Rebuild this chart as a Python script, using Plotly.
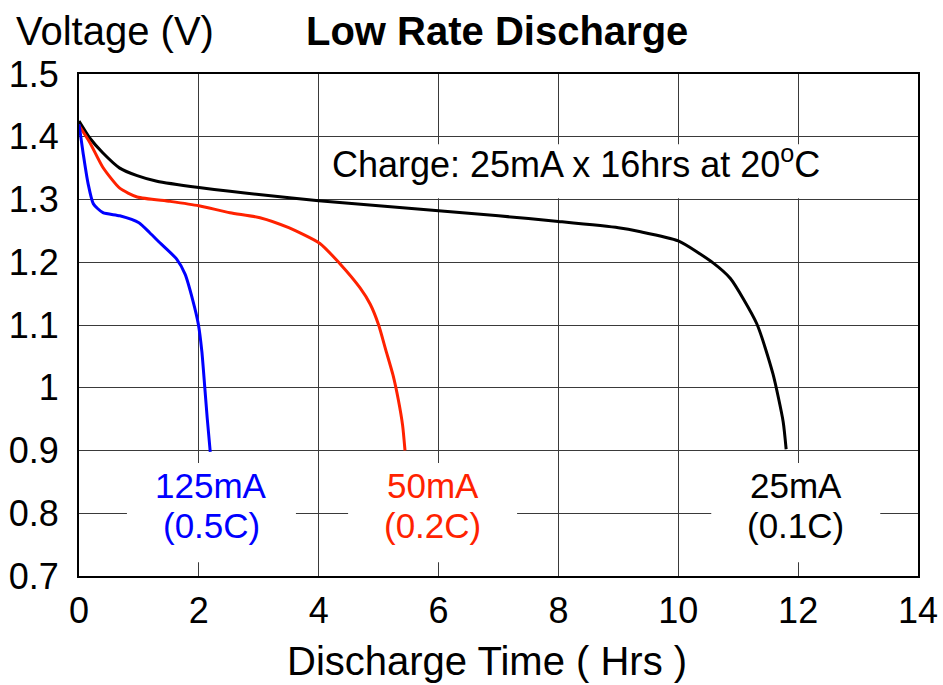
import plotly.graph_objects as go

# ---- data ----
t_25mA = [0, 0.18, 0.4, 0.68, 0.97, 1.3, 2.0, 2.52, 3.0, 4.0, 5.0, 6.0, 7.0, 8.0, 9.0, 9.35, 10.0, 10.58, 10.87, 11.31, 11.58, 11.75, 11.8]
v_25mA = [1.425, 1.398, 1.374, 1.350, 1.338, 1.329, 1.319, 1.313, 1.308, 1.298, 1.29, 1.282, 1.274, 1.265, 1.255, 1.249, 1.234, 1.199, 1.174, 1.102, 1.022, 0.946, 0.902]

t_50mA = [0, 0.18, 0.4, 0.68, 0.97, 1.52, 2.0, 2.52, 3.02, 3.5, 4.02, 4.35, 4.69, 4.86, 5.0, 5.12, 5.24, 5.33, 5.4, 5.44]
v_50mA = [1.418, 1.391, 1.351, 1.318, 1.304, 1.297, 1.290, 1.279, 1.271, 1.255, 1.230, 1.198, 1.159, 1.133, 1.10, 1.06, 1.02, 0.98, 0.94, 0.90]

t_125mA = [0, 0.07, 0.15, 0.24, 0.4, 0.68, 1.0, 1.18, 1.35, 1.63, 1.77, 1.9, 1.99, 2.05, 2.1, 2.14, 2.19]
v_125mA = [1.42, 1.373, 1.326, 1.293, 1.279, 1.274, 1.263, 1.247, 1.231, 1.205, 1.181, 1.139, 1.102, 1.058, 0.999, 0.951, 0.898]

x_ticks = [0, 2, 4, 6, 8, 10, 12, 14]
y_ticks = [0.7, 0.8, 0.9, 1.0, 1.1, 1.2, 1.3, 1.4, 1.5]
y_ticktext = ["0.7", "0.8", "0.9", "1", "1.1", "1.2", "1.3", "1.4", "1.5"]

series = [
    ("25mA", "(0.1C)", t_25mA, v_25mA, "#000000", 11.96),
    ("50mA", "(0.2C)", t_50mA, v_50mA, "#ff2200", 5.9),
    ("125mA", "(0.5C)", t_125mA, v_125mA, "#0000ff", 2.21),
]

FONT = "Liberation Sans, Arial, sans-serif"

fig = go.Figure()
for name, rate, t, v, col, lx in series:
    fig.add_trace(go.Scatter(x=t, y=v, mode="lines", name=name,
                             line=dict(color=col, width=3, shape="spline", smoothing=0.6),
                             showlegend=False))

shapes = []
annotations = []
for name, rate, t, v, col, lx in series:
    shapes.append(dict(type="rect", xref="x", yref="y", layer="between",
                       x0=lx - 1.41, x1=lx + 1.41, y0=0.722, y1=0.88,
                       fillcolor="white", line=dict(width=0)))
    annotations.append(dict(x=lx, y=0.845, xref="x", yref="y", text=name, showarrow=False,
                            font=dict(size=35, color=col, family=FONT)))
    annotations.append(dict(x=lx, y=0.781, xref="x", yref="y", text=rate, showarrow=False,
                            font=dict(size=35, color=col, family=FONT)))

# charge note box
shapes.append(dict(type="rect", xref="x", yref="y", layer="between",
                   x0=4.1, x1=12.5, y0=1.302, y1=1.388,
                   fillcolor="white", line=dict(width=0)))
annotations.append(dict(x=8.3, y=1.359, xref="x", yref="y",
                        text="Charge: 25mA x 16hrs at 20<sup>o</sup>C", showarrow=False,
                        font=dict(size=36, color="black", family=FONT)))

annotations.append(dict(x=0.4985, y=1.086, xref="paper", yref="paper", text="<b>Low Rate Discharge</b>",
                        showarrow=False, xanchor="center", yanchor="middle",
                        font=dict(size=40, color="black", family=FONT)))
annotations.append(dict(x=-0.0775, y=1.086, xref="paper", yref="paper", text="Voltage (V)",
                        showarrow=False, xanchor="left", yanchor="middle",
                        font=dict(size=40, color="black", family=FONT)))
annotations.append(dict(x=0.486, y=-0.169, xref="paper", yref="paper", text="Discharge Time ( Hrs )",
                        showarrow=False, xanchor="center", yanchor="middle",
                        font=dict(size=40, color="black", family=FONT)))

fig.update_layout(
    width=943, height=685,
    margin=dict(l=79, r=25, t=74, b=109),
    paper_bgcolor="white", plot_bgcolor="white",
    shapes=shapes, annotations=annotations,
    font=dict(family=FONT, color="black"),
)
fig.update_xaxes(range=[0, 14], tickvals=x_ticks, ticktext=[str(v) for v in x_ticks],
                 showgrid=True, gridcolor="#3a3a3a", gridwidth=1,
                 showline=True, linecolor="black", linewidth=2, mirror=True,
                 ticks="", ticklabelstandoff=2, tickfont=dict(size=36, family=FONT),
                 zeroline=False, fixedrange=True, automargin=False)
fig.update_yaxes(range=[0.7, 1.5], tickvals=y_ticks, ticktext=y_ticktext,
                 showgrid=True, gridcolor="#3a3a3a", gridwidth=1,
                 showline=True, linecolor="black", linewidth=2, mirror=True,
                 ticks="", ticklabelstandoff=11, tickfont=dict(size=36, family=FONT),
                 zeroline=False, fixedrange=True, automargin=False)

fig.write_html("out.html")
